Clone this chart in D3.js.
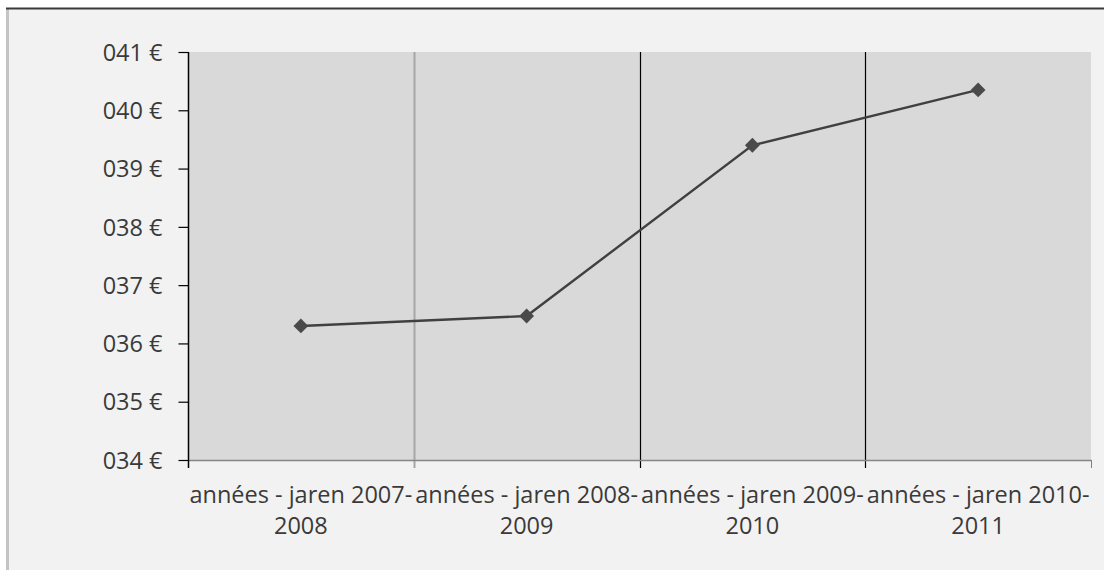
<!DOCTYPE html>
<html>
<head>
<meta charset="utf-8">
<script src="https://cdn.jsdelivr.net/npm/d3@7/dist/d3.min.js"></script>
<style>
  html, body { margin: 0; padding: 0; background: #ffffff; }
  svg { display: block; }
  text { font-family: "Open Sans", "Noto Sans", sans-serif; fill: #3a3a3a; }
</style>
</head>
<body>
<svg id="chart" width="1104" height="570"></svg>
<script>
// Yearly amounts per school year
const categories = ["2007-2008", "2008-2009", "2009-2010", "2010-2011"];
const labelLine1 = ["années - jaren 2007-", "années - jaren 2008-", "années - jaren 2009-", "années - jaren 2010-"];
const labelLine2 = ["2008", "2009", "2010", "2011"];
const values = [36.30, 36.47, 39.40, 40.35];
const yTicks = [34, 35, 36, 37, 38, 39, 40, 41];
const yTickLabels = ["034 €", "035 €", "036 €", "037 €", "038 €", "039 €", "040 €", "041 €"];

const svg = d3.select("#chart");

// Chart frame
svg.append("rect").attr("x", 7).attr("y", 8).attr("width", 1097).attr("height", 562).attr("fill", "#f2f2f2");
svg.append("line").attr("x1", 7.5).attr("x2", 7.5).attr("y1", 8).attr("y2", 570)
  .attr("stroke", "#c4c4c4").attr("stroke-width", 3);
svg.append("line").attr("x1", 6).attr("x2", 1104).attr("y1", 8.5).attr("y2", 8.5)
  .attr("stroke", "#3a3a3a").attr("stroke-width", 2);

const plotLeft = 188, plotRight = 1091, plotTop = 52, plotBottom = 460;

const x = d3.scaleBand().domain(categories).range([plotLeft, plotRight]).paddingInner(0).paddingOuter(0);
const y = d3.scaleLinear().domain([34, 41]).range([plotBottom, plotTop]);

// Plot area
svg.append("rect").attr("x", plotLeft).attr("y", plotTop)
  .attr("width", plotRight - plotLeft).attr("height", plotBottom - plotTop)
  .attr("fill", "#d9d9d9");

// Category separators
const bounds = categories.map(c => x(c)).concat([x.range()[1]]);
const sepColors = [null, "#a6a6a6", "#000000", "#000000", "#7f7f7f"];
const sepWidths = [0, 2, 1.2, 1.2, 1];
bounds.forEach((bx, i) => {
  if (i === 0) return;
  const inner = i < bounds.length - 1;
  svg.append("line")
    .attr("x1", Math.round(bx) + 0.5).attr("x2", Math.round(bx) + 0.5)
    .attr("y1", inner ? plotTop : plotBottom).attr("y2", plotBottom + 8)
    .attr("stroke", sepColors[i]).attr("stroke-width", sepWidths[i]);
});

// X axis baseline
svg.append("line").attr("x1", plotLeft).attr("x2", plotRight + 0.5)
  .attr("y1", plotBottom + 0.5).attr("y2", plotBottom + 0.5)
  .attr("stroke", "#868686").attr("stroke-width", 1.5);

// Y axis
const yAxis = d3.axisLeft(y).tickValues(yTicks).tickFormat((d, i) => yTickLabels[i]).tickSize(10).tickPadding(16);
const gy = svg.append("g").attr("transform", `translate(${plotLeft + 0.5},0)`).call(yAxis);
gy.attr("font-size", null).attr("font-family", null);
gy.select(".domain").attr("stroke", "#000").attr("stroke-width", 1.5).attr("d", `M0,${plotTop}V${plotBottom + 8}`);
gy.selectAll(".tick line").attr("stroke", "#000").attr("stroke-width", 1.2);
gy.selectAll(".tick text").style("font-size", "23.5px").style("font-family", "'Open Sans', sans-serif")
  .attr("fill", "#3a3a3a").attr("dy", "0.35em");

// X labels
const xl = svg.append("g");
categories.forEach((c, i) => {
  const cx = x(c) + x.bandwidth() / 2;
  const t = xl.append("text").attr("x", cx).attr("text-anchor", "middle").style("font-size", "23.5px");
  t.append("tspan").attr("x", cx).attr("y", 503).text(labelLine1[i]);
  t.append("tspan").attr("x", cx).attr("y", 534).text(labelLine2[i]);
});

// Line series
const line = d3.line().x((d, i) => x(categories[i]) + x.bandwidth() / 2).y(d => y(d));
svg.append("path").datum(values).attr("d", line).attr("fill", "none")
  .attr("stroke", "#404040").attr("stroke-width", 2.4);

svg.selectAll(".pt").data(values).enter().append("path")
  .attr("class", "pt")
  .attr("transform", (d, i) => `translate(${x(categories[i]) + x.bandwidth() / 2},${y(d)})`)
  .attr("d", d3.symbol().type(d3.symbolDiamond2).size(140))
  .attr("fill", "#4a4a4a");
</script>
</body>
</html>
